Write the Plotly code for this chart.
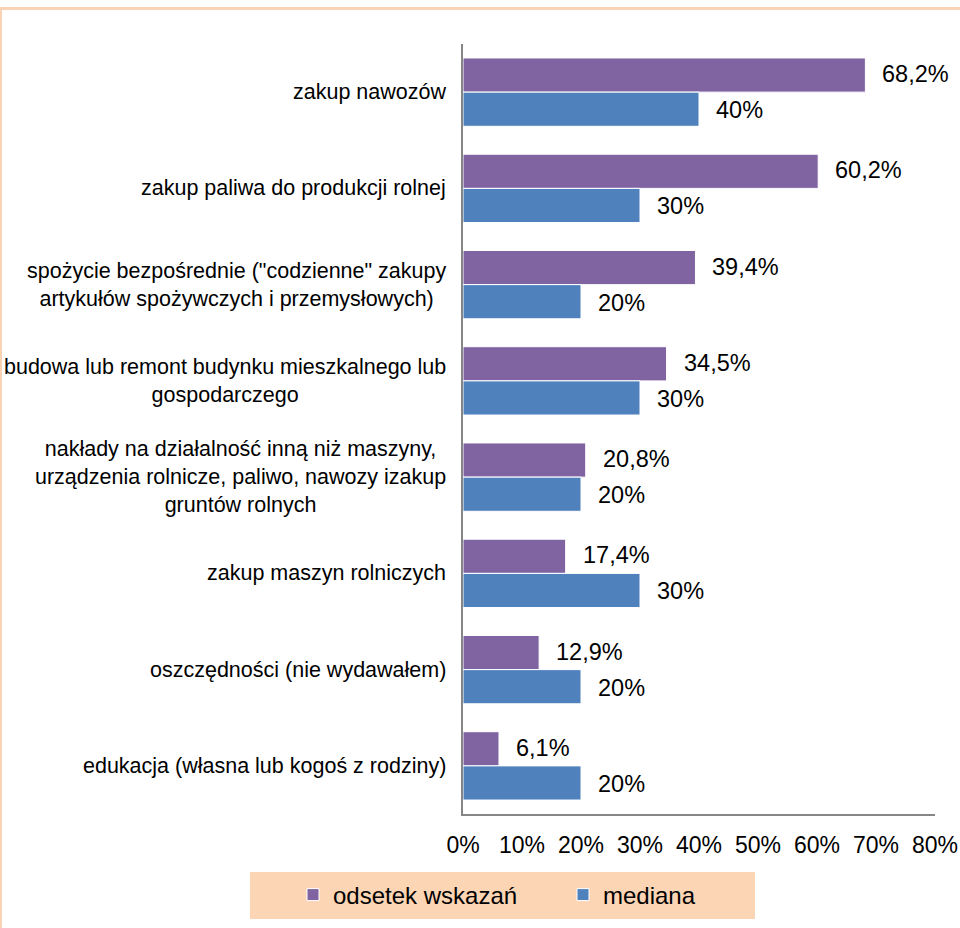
import plotly.graph_objects as go

categories = [
    "zakup nawozów",
    "zakup paliwa do produkcji rolnej",
    "spożycie bezpośrednie (\"codzienne\" zakupy<br>artykułów spożywczych i przemysłowych)",
    "budowa lub remont budynku mieszkalnego lub<br>gospodarczego",
    "nakłady na działalność inną niż maszyny,<br>urządzenia rolnicze, paliwo, nawozy izakup<br>gruntów rolnych",
    "zakup maszyn rolniczych",
    "oszczędności (nie wydawałem)",
    "edukacja (własna lub kogoś z rodziny)",
]
odsetek = [68.2, 60.2, 39.4, 34.5, 20.8, 17.4, 12.9, 6.1]
mediana = [40, 30, 20, 30, 20, 30, 20, 20]
series_names = ["odsetek wskazań", "mediana"]
x_ticks = [0, 10, 20, 30, 40, 50, 60, 70, 80]

PURPLE = "#8064A2"
BLUE = "#4F81BD"
PEACH = "#FCD5B5"
FONT = "Liberation Sans, Arial, sans-serif"


def fmt(v):
    s = f"{v:.1f}" if v != int(v) else f"{int(v)}"
    return s.replace(".", ",") + "%"


fig = go.Figure()
fig.add_trace(go.Bar(
    y=categories, x=odsetek, orientation="h", name=series_names[0],
    marker=dict(color=PURPLE, line=dict(color="white", width=1)),
    hoverinfo="skip",
))
fig.add_trace(go.Bar(
    y=categories, x=mediana, orientation="h", name=series_names[1],
    marker=dict(color=BLUE, line=dict(color="white", width=1)),
    hoverinfo="skip",
))

annotations = []
for c, v in zip(categories, odsetek):
    annotations.append(dict(x=v, y=c, xref="x", yref="y", text=fmt(v), showarrow=False,
                            xanchor="left", yanchor="middle", xshift=15, yshift=18,
                            font=dict(size=23.5, color="black", family=FONT)))
for c, v in zip(categories, mediana):
    annotations.append(dict(x=v, y=c, xref="x", yref="y", text=fmt(v), showarrow=False,
                            xanchor="left", yanchor="middle", xshift=15, yshift=-18,
                            font=dict(size=23.5, color="black", family=FONT)))
for c in categories:
    annotations.append(dict(x=0, y=c, xref="paper", yref="y", text=c, showarrow=False,
                            xanchor="right", yanchor="middle", align="center", xshift=-15,
                            font=dict(size=21.5, color="black", family=FONT)))

# plot area: left 463, right 935, top 44, bottom 814
L, R, T, B = 463, 935, 44, 814
W, H = R - L, B - T


def px(x):
    return (x - L) / W


def py(y):
    return (B - y) / H


shapes = [
    dict(type="rect", xref="paper", yref="paper",
         x0=px(0.5), x1=px(1200), y0=py(1200), y1=py(8.5),
         line=dict(color="#FAD3B5", width=3), fillcolor="rgba(0,0,0,0)", layer="below"),
    dict(type="rect", xref="paper", yref="paper",
         x0=px(250), x1=px(755), y0=py(919), y1=py(872),
         line=dict(width=0), fillcolor=PEACH, layer="below"),
]

fig.update_layout(
    width=960, height=928,
    margin=dict(l=L, r=960 - R, t=T, b=928 - B, autoexpand=False),
    paper_bgcolor="white", plot_bgcolor="white",
    barmode="group", bargap=0.29, bargroupgap=0,
    font=dict(family=FONT, size=23, color="black"),
    showlegend=True,
    legend=dict(orientation="h", x=px(293), xanchor="left", y=py(895), yanchor="middle",
                bgcolor="rgba(0,0,0,0)", font=dict(size=24, family=FONT),
                itemwidth=30, entrywidth=225, traceorder="normal"),
    xaxis=dict(range=[0, 80], tickvals=x_ticks, ticktext=[f"{t}%" for t in x_ticks],
               showgrid=False, zeroline=False, showline=True, linecolor="#868686", linewidth=2,
               ticks="", ticklabelstandoff=9, tickfont=dict(size=23), automargin=False),
    yaxis=dict(autorange="reversed", showticklabels=False, showgrid=False, zeroline=False,
               showline=True, linecolor="#868686", linewidth=2, ticks="", automargin=False),
    annotations=annotations,
    shapes=shapes,
)

fig.write_html("out.html", config={"displayModeBar": False},
               post_script="document.body.style.margin='0';")
